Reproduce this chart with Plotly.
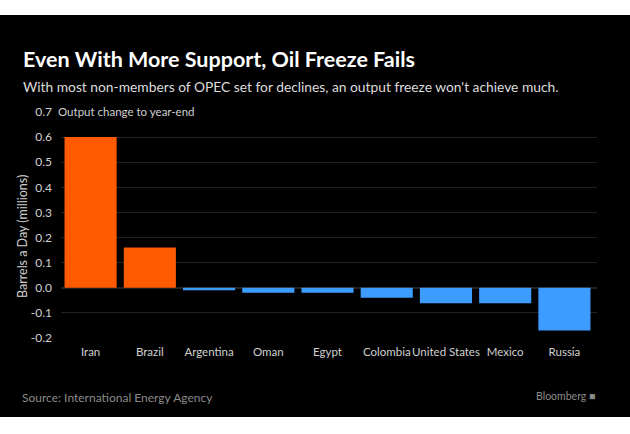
import plotly.graph_objects as go

countries = ["Iran", "Brazil", "Argentina", "Oman", "Egypt", "Colombia",
             "United States", "Mexico", "Russia"]
change = [0.60, 0.16, -0.01, -0.02, -0.02, -0.04, -0.062, -0.062, -0.17]
y_ticks = [-0.2, -0.1, 0.0, 0.1, 0.2, 0.3, 0.4, 0.5, 0.6, 0.7]
y_labels = ["-0.2", "-0.1", "0.0", "0.1", "0.2", "0.3", "0.4", "0.5", "0.6", "0.7"]

FONT = "Lato, sans-serif"
colors = ["#ff5a00" if v > 0 else "#3d9cff" for v in change]

fig = go.Figure()
fig.add_trace(go.Bar(x=countries, y=change, marker=dict(color=colors, line_width=0),
                     showlegend=False, hoverinfo="skip"))

# plot area in pixels, used to place the black panel and the texts
L, R, T, B = 61, 33, 112, 96
W, H = 630 - L - R, 434 - T - B


def px(x):
    return (x - L) / W


def py(y):
    return (T + H - y) / H


fig.add_shape(type="rect", xref="paper", yref="paper", layer="below",
              x0=px(0), x1=px(630), y0=py(417), y1=py(15),
              fillcolor="black", line_width=0)

fig.update_layout(
    width=630, height=434,
    margin=dict(l=L, r=R, t=T, b=B),
    paper_bgcolor="white", plot_bgcolor="black",
    bargap=0.12,
    font=dict(family=FONT, color="#cccccc", size=12),
    xaxis=dict(showgrid=False, ticks="", tickangle=0, tickfont=dict(size=11.5, color="#d0d0d0"),
               range=[-0.5, 8.55], ticklabelstandoff=5),
    yaxis=dict(range=[-0.2, 0.7], tickvals=y_ticks, ticktext=y_labels,
               gridcolor="#222222", gridwidth=1, zeroline=True, zerolinecolor="#222222",
               tickfont=dict(size=12, color="#d0d0d0"), ticks="", ticklabelstandoff=8),
)

fig.add_annotation(text="<b>Even With More Support, Oil Freeze Fails</b>", xref="paper", yref="paper",
                   x=px(21), y=py(59), xanchor="left", yanchor="middle",
                   showarrow=False, font=dict(size=21.5, color="white", family=FONT))
fig.add_annotation(text="With most non-members of OPEC set for declines, an output freeze won't achieve much.",
                   xref="paper", yref="paper", x=px(21), y=py(86),
                   xanchor="left", yanchor="middle", showarrow=False,
                   font=dict(size=13.8, color="#dddddd", family=FONT))
fig.add_annotation(text="Output change to year-end", xref="paper", yref="paper",
                   x=px(56), y=py(111), xanchor="left", yanchor="middle", showarrow=False,
                   font=dict(size=11.5, color="#d0d0d0", family=FONT))
fig.add_annotation(text="Barrels a Day (millions)", xref="paper", yref="paper",
                   x=px(22), y=py(237), textangle=-90,
                   xanchor="center", yanchor="middle", showarrow=False,
                   font=dict(size=12.5, color="#d0d0d0", family=FONT))
fig.add_annotation(text="Source: International Energy Agency", xref="paper", yref="paper",
                   x=px(20), y=py(397), xanchor="left", yanchor="middle",
                   showarrow=False, font=dict(size=12, color="#8a8a8a", family=FONT))
fig.add_annotation(text="Bloomberg \u25a0", xref="paper", yref="paper",
                   x=px(597), y=py(396), xanchor="right", yanchor="middle",
                   showarrow=False, font=dict(size=10.5, color="#8a8a8a", family=FONT))

fig.write_html("out.html", config={"displayModeBar": False},
               post_script="document.body.style.margin='0';")
